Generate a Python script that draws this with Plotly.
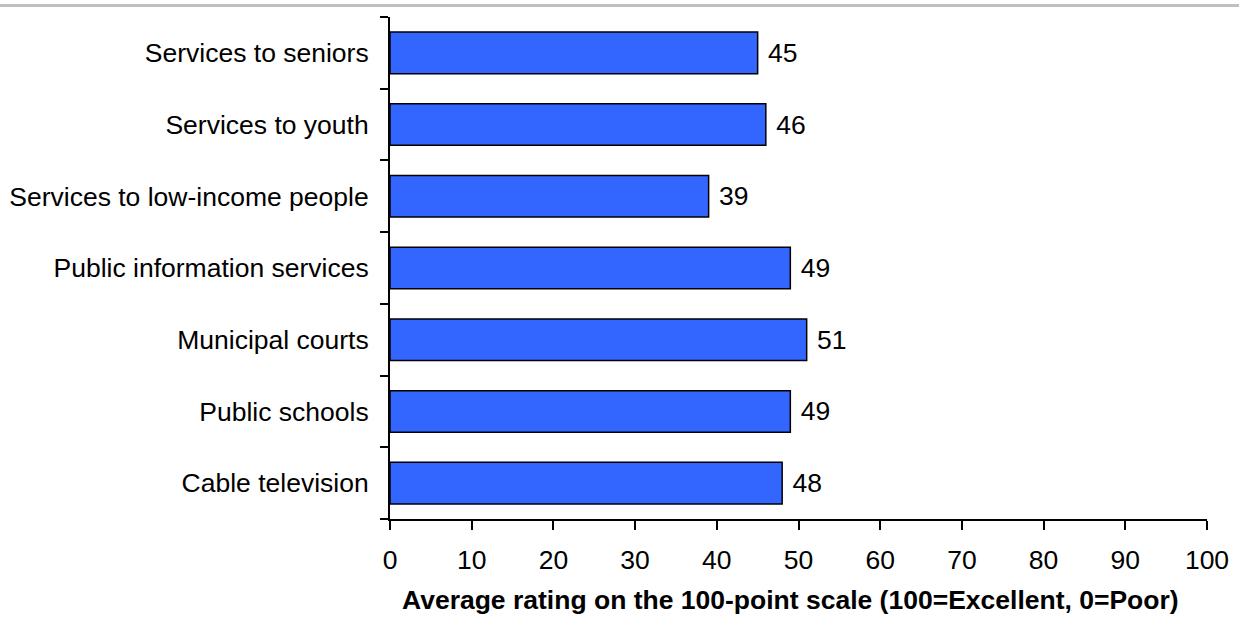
import plotly.graph_objects as go

# Service ratings, listed top to bottom
services = [
    "Services to seniors",
    "Services to youth",
    "Services to low-income people",
    "Public information services",
    "Municipal courts",
    "Public schools",
    "Cable television",
]
ratings = [45, 46, 39, 49, 51, 49, 48]
x_ticks = [0, 10, 20, 30, 40, 50, 60, 70, 80, 90, 100]
x_title = "<b>Average rating on the 100-point scale (100=Excellent, 0=Poor)</b>"

FONT = "Liberation Sans, Arial, sans-serif"
SIZE = 26.5

fig = go.Figure(
    go.Bar(
        y=services,
        x=ratings,
        orientation="h",
        marker=dict(color="#3366FF", line=dict(color="black", width=1.5)),
        text=ratings,
        texttemplate=" %{text}",
        textposition="outside",
        textfont=dict(family=FONT, size=SIZE, color="black"),
        cliponaxis=False,
    )
)

W, H = 1239, 619
L, R, T, B = 390, 32, 17, 100
pw, ph = W - L - R, H - T - B

fig.update_layout(
    width=W,
    height=H,
    margin=dict(l=L, r=R, t=T, b=B, autoexpand=False),
    paper_bgcolor="white",
    plot_bgcolor="white",
    bargap=0.42,
    showlegend=False,
    font=dict(family=FONT, size=SIZE, color="black"),
    xaxis=dict(
        range=[0, 100],
        tickvals=x_ticks,
        ticks="outside",
        ticklen=9,
        tickwidth=2,
        tickcolor="black",
        showline=True,
        linecolor="black",
        linewidth=2,
        showgrid=False,
        zeroline=False,
        automargin=False,
        ticklabelstandoff=7,
        tickfont=dict(family=FONT, size=SIZE, color="black"),
    ),
    yaxis=dict(
        categoryorder="array",
        categoryarray=services[::-1],
        autorange=False,
        range=[-0.5, len(services) - 0.5],
        tickson="boundaries",
        ticks="outside",
        ticklen=8,
        tickwidth=2,
        tickcolor="black",
        showline=True,
        linecolor="black",
        linewidth=2,
        showgrid=False,
        zeroline=False,
        automargin=False,
        ticklabelstandoff=14,
        tickfont=dict(family=FONT, size=SIZE, color="black"),
    ),
    annotations=[
        dict(
            text=x_title,
            xref="paper",
            yref="paper",
            x=(790 - L) / pw,
            y=-(600 - (H - B)) / ph,
            xanchor="center",
            yanchor="middle",
            showarrow=False,
            font=dict(family=FONT, size=SIZE, color="black"),
        )
    ],
    shapes=[
        dict(
            type="line",
            xref="paper",
            yref="paper",
            x0=-L / pw,
            x1=(W - L) / pw,
            y0=1 + (T - 5.5) / ph,
            y1=1 + (T - 5.5) / ph,
            line=dict(color="#C0C0C0", width=3),
        )
    ],
)

fig.write_html("out.html")
